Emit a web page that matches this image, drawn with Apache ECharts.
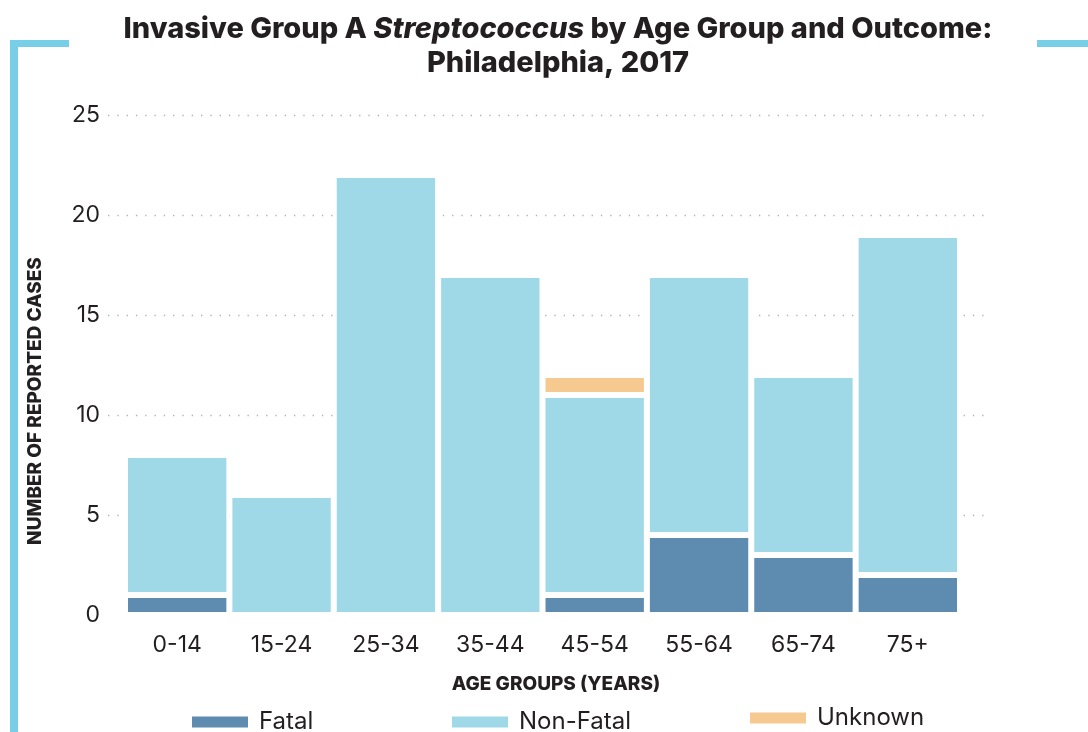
<!DOCTYPE html>
<html>
<head>
<meta charset="utf-8">
<script src="https://cdn.jsdelivr.net/npm/echarts@6/dist/echarts.min.js"></script>
<style>
  html, body { margin: 0; padding: 0; background: #fff; }
  #chart { width: 1088px; height: 732px; }
</style>
</head>
<body>
<div id="chart"></div>
<script>
// Age groups and case counts by outcome
const ageGroups = ['0-14', '15-24', '25-34', '35-44', '45-54', '55-64', '65-74', '75+'];
const fatal    = [1, 0, 0, 0, 1, 4, 3, 2];
const nonFatal = [7, 6, 22, 17, 10, 13, 9, 17];
const unknown  = [0, 0, 0, 0, 1, 0, 0, 0];
const yTicks = { min: 0, max: 25, interval: 5 };

const FONT = 'Inter, "Open Sans", sans-serif';
const INK = '#231f20';
const ACCENT = '#76cfe6';
const colors = { fatal: '#5e8bb0', nonFatal: '#9fd9e8', unknown: '#f6c990' };

const chart = echarts.init(document.getElementById('chart'));

function legendFor(name, left, top) {
  return {
    data: [name], left: left, top: top, orient: 'horizontal', padding: 0,
    icon: 'rect', itemWidth: 58, itemHeight: 13,
    textStyle: { fontFamily: FONT, fontSize: 24, color: INK, padding: [0, 0, 0, 5] },
    selectedMode: false
  };
}

function barSeries(name, data, color) {
  return {
    name: name, type: 'bar', stack: 'cases', data: data,
    xAxisIndex: 0, yAxisIndex: 0,
    barCategoryGap: '0%',
    itemStyle: { color: color, borderColor: '#ffffff', borderWidth: 3 },
    emphasis: { disabled: true }
  };
}

chart.setOption({
  animation: false,
  backgroundColor: '#ffffff',
  title: {
    left: 553, top: 7, textAlign: 'center',
    text: '{b|Invasive Group A }{i|Streptococcus}{b| by Age Group and Outcome:}\n{b|Philadelphia, 2017}',
    textStyle: {
      rich: {
        b: { fontFamily: FONT, fontSize: 29, fontWeight: 800, color: INK, lineHeight: 34 },
        i: { fontFamily: FONT, fontSize: 29, fontWeight: 800, fontStyle: 'italic', color: INK, lineHeight: 34 }
      }
    }
  },
  legend: [
    legendFor('Fatal', 190, 710),
    legendFor('Non-Fatal', 450, 710),
    legendFor('Unknown', 748, 706)
  ],
  grid: [
    { left: 125, right: 128, top: 115, bottom: 117 },
    { left: 108, right: 103, top: 115, bottom: 117 }
  ],
  xAxis: [
    {
      type: 'category', gridIndex: 0, data: ageGroups,
      axisLine: { show: false }, axisTick: { show: false },
      axisLabel: { fontFamily: FONT, fontSize: 23, color: INK, margin: 19 }
    },
    { type: 'value', gridIndex: 1, min: 0, max: 1, show: false }
  ],
  yAxis: [
    {
      type: 'value', gridIndex: 0, min: yTicks.min, max: yTicks.max, interval: yTicks.interval,
      show: false, splitLine: { show: false }
    },
    {
      type: 'value', gridIndex: 1, min: yTicks.min, max: yTicks.max, interval: yTicks.interval,
      axisLine: { show: false }, axisTick: { show: false },
      axisLabel: { fontFamily: FONT, fontSize: 23, color: INK, margin: 8 },
      splitLine: { show: true, showMinLine: false,
                   lineStyle: { color: '#b0b0b0', width: 1.3, type: [1.3, 8] } }
    }
  ],
  series: [
    barSeries('Fatal', fatal, colors.fatal),
    barSeries('Non-Fatal', nonFatal, colors.nonFatal),
    barSeries('Unknown', unknown, colors.unknown)
  ],
  graphic: [
    // frame accents
    { type: 'rect', shape: { x: 10, y: 40, width: 8, height: 692 }, style: { fill: ACCENT }, silent: true },
    { type: 'rect', shape: { x: 10, y: 40, width: 59, height: 7 }, style: { fill: ACCENT }, silent: true },
    { type: 'rect', shape: { x: 1037, y: 40, width: 51, height: 7 }, style: { fill: ACCENT }, silent: true },
    // axis titles
    {
      type: 'text', x: 35, y: 401, rotation: Math.PI / 2, silent: true,
      style: { text: 'NUMBER OF REPORTED CASES', fontFamily: FONT, fontSize: 19, fontWeight: 800,
               fill: INK, align: 'center', verticalAlign: 'middle' }
    },
    {
      type: 'text', x: 556, y: 684, silent: true,
      style: { text: 'AGE GROUPS (YEARS)', fontFamily: FONT, fontSize: 19, fontWeight: 800,
               fill: INK, align: 'center', verticalAlign: 'middle' }
    }
  ]
});
</script>
</body>
</html>
